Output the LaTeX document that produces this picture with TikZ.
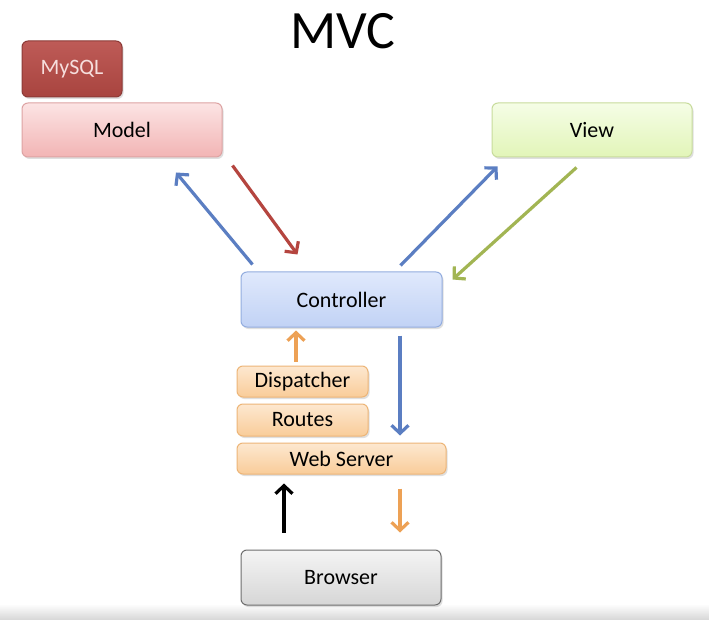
\documentclass[tikz,border=0pt]{standalone}
\usepackage{fontspec}
\setmainfont{Carlito}
\usetikzlibrary{arrows.meta,calc,shadows}

\definecolor{arrblue}{HTML}{5B7EC2}
\definecolor{arrred}{HTML}{B5453F}
\definecolor{arrgreen}{HTML}{A2B553}
\definecolor{arrorange}{HTML}{EDA155}

% colour names of the form HTMLxxxxxx used in the styles
\def\defhtml#1{\definecolor{HTML#1}{HTML}{#1}}
\defhtml{8C3A36}\defhtml{BE5B57}\defhtml{A8443F}\defhtml{F6DEDD}
\defhtml{DDA3A3}\defhtml{FCE4E4}\defhtml{F2B4B4}
\defhtml{C8DC9C}\defhtml{F5FDE6}\defhtml{E2F5B8}
\defhtml{93ADDF}\defhtml{E0E9FC}\defhtml{C1D2F5}
\defhtml{EDB577}\defhtml{FDE8D0}\defhtml{F9CC99}
\defhtml{6E6E6E}\defhtml{F4F4F4}\defhtml{D6D6D6}

\tikzset{
  box/.style={rounded corners=6pt, line width=1pt, inner sep=0pt,
    font=\fontsize{22}{26}\selectfont,
    drop shadow={shadow xshift=1.5pt, shadow yshift=-2pt, opacity=0.25}},
  mysqlbox/.style={box, draw=HTML8C3A36, top color=HTMLBE5B57, bottom color=HTMLA8443F,
    text=HTMLF6DEDD, minimum width=100pt, minimum height=56pt},
  modelbox/.style={box, draw=HTMLDDA3A3, top color=HTMLFCE4E4, bottom color=HTMLF2B4B4,
    minimum width=200pt, minimum height=54pt},
  viewbox/.style={box, draw=HTMLC8DC9C, top color=HTMLF5FDE6, bottom color=HTMLE2F5B8,
    minimum width=200pt, minimum height=54pt},
  ctrlbox/.style={box, draw=HTML93ADDF, top color=HTMLE0E9FC, bottom color=HTMLC1D2F5,
    minimum width=201pt, minimum height=55pt},
  layerbox/.style={box, draw=HTMLEDB577, top color=HTMLFDE8D0, bottom color=HTMLF9CC99,
    minimum height=31pt},
  clientbox/.style={box, draw=HTML6E6E6E, top color=HTMLF4F4F4, bottom color=HTMLD6D6D6,
    minimum width=200pt, minimum height=55pt},
  flow/.style={line width=3.2pt, -{Straight Barb[length=8pt,width=17pt,line width=3.2pt]}},
}

\begin{document}
\begin{tikzpicture}[x=1pt,y=-1pt]
  \useasboundingbox (0,0) rectangle (709,620);
  \fill[white] (0,0) rectangle (709,620);
  % grey band along the bottom edge
  \shade[top color=white, bottom color=HTMLD6D6D6] (0,604) rectangle (709,620);

  % title
  \node (title) at (343,31) {\fontsize{54}{60}\selectfont MVC};

  % boxes
  \node[mysqlbox] (mysql) at (72,69) {MySQL};
  \node[modelbox] (model) at (122,130) {Model};
  \node[viewbox] (view) at (592,130) {View};
  \node[ctrlbox] (ctrl) at (341.5,299.5) {Controller};
  \node[layerbox, minimum width=131pt] (disp) at (302.5,381.5) {Dispatcher};
  \node[layerbox, minimum width=131pt, minimum height=32pt] (routes) at (302.5,420) {Routes};
  \node[layerbox, minimum width=209pt] (web) at (341.5,458.5) {Web Server};
  \node[clientbox] (browser) at (341,577.5) {Browser};

  % controller <-> model
  \draw[flow, arrblue] ($(ctrl.north west)+(12,-7)$) -- ($(model.south)+(54,15)$);
  \draw[flow, arrred] ($(model.south east)+(10,8)$) -- ($(ctrl.north west)+(57,-17)$);
  % controller <-> view
  \draw[flow, arrblue] ($(ctrl.north east)+(-42,-6)$) -- ($(view.south west)+(6,9)$);
  \draw[flow, arrgreen] ($(view.south west)+(85,10)$) -- ($(ctrl.north east)+(10,8)$);
  % request path up through the layers
  \draw[flow, arrorange] ($(disp.north)+(-6.5,-4)$) -- ($(ctrl.south)+(-45.5,3)$);
  \draw[flow, black] ($(browser.north)+(-57,-17)$) -- ($(web.south)+(-57.5,9)$);
  % response path down
  \draw[flow, arrblue] ($(ctrl.south)+(58.5,8)$) -- ($(web.north)+(58.5,-7)$);
  \draw[flow, arrorange] ($(web.south)+(58.5,14)$) -- ($(browser.north)+(59,-17)$);
\end{tikzpicture}
\end{document}
